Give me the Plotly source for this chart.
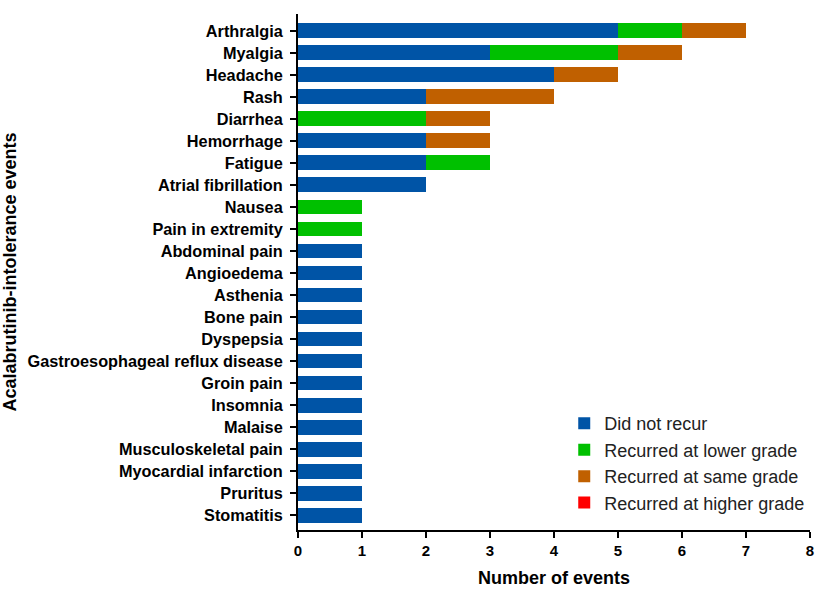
import plotly.graph_objects as go

categories = ["Arthralgia", "Myalgia", "Headache", "Rash", "Diarrhea", "Hemorrhage", "Fatigue",
              "Atrial fibrillation", "Nausea", "Pain in extremity", "Abdominal pain", "Angioedema",
              "Asthenia", "Bone pain", "Dyspepsia", "Gastroesophageal reflux disease", "Groin pain",
              "Insomnia", "Malaise", "Musculoskeletal pain", "Myocardial infarction", "Pruritus",
              "Stomatitis"]
did_not_recur = [5, 3, 4, 2, 0, 2, 2, 2, 0, 0, 1, 1, 1, 1, 1, 1, 1, 1, 1, 1, 1, 1, 1]
lower_grade   = [1, 2, 0, 0, 2, 0, 1, 0, 1, 1, 0, 0, 0, 0, 0, 0, 0, 0, 0, 0, 0, 0, 0]
same_grade    = [1, 1, 1, 2, 1, 1, 0, 0, 0, 0, 0, 0, 0, 0, 0, 0, 0, 0, 0, 0, 0, 0, 0]
higher_grade  = [0] * 23

series = [
    ("Did not recur", did_not_recur, "#0054A6"),
    ("Recurred at lower grade", lower_grade, "#00C000"),
    ("Recurred at same grade", same_grade, "#C06000"),
    ("Recurred at higher grade", higher_grade, "#FF0000"),
]

fig = go.Figure()
for name, vals, color in series:
    fig.add_trace(go.Bar(
        y=categories, x=vals, name=name, orientation="h",
        marker=dict(color=color, line=dict(width=0)), width=0.68,
    ))

font_family = "Liberation Sans, Arial, sans-serif"
fig.update_layout(
    barmode="stack",
    width=827, height=595,
    margin=dict(l=298, r=17, t=14, b=65, autoexpand=False),
    plot_bgcolor="white", paper_bgcolor="white",
    font=dict(family=font_family, color="black"),
    showlegend=True,
    legend=dict(x=0.52, y=0.242, xanchor="left", yanchor="top",
                font=dict(size=18, family=font_family, color="#222"),
                bgcolor="rgba(0,0,0,0)", traceorder="normal",
                itemwidth=30),
    xaxis=dict(range=[0, 8], dtick=1, showgrid=False, zeroline=False,
               showline=True, linecolor="black", linewidth=2,
               ticks="outside", ticklen=6, tickwidth=2, tickcolor="black",
               tickfont=dict(size=15, family=font_family, weight="bold"),
               title=dict(text="<b>Number of events</b>", font=dict(size=18), standoff=13)),
    yaxis=dict(categoryorder="array", categoryarray=categories,
               range=[22.68, -0.77], showgrid=False, zeroline=False,
               showline=True, linecolor="black", linewidth=2,
               ticks="outside", ticklen=6, tickwidth=2, tickcolor="black",
               ticklabelstandoff=4,
               tickfont=dict(size=16.3, family=font_family, weight="bold"),
               title=dict(text="<b>Acalabrutinib-intolerance events</b>", font=dict(size=18), standoff=10)),
)

fig.write_html("out.html", config={"displayModeBar": False},
               post_script="document.body.style.margin='0';")
